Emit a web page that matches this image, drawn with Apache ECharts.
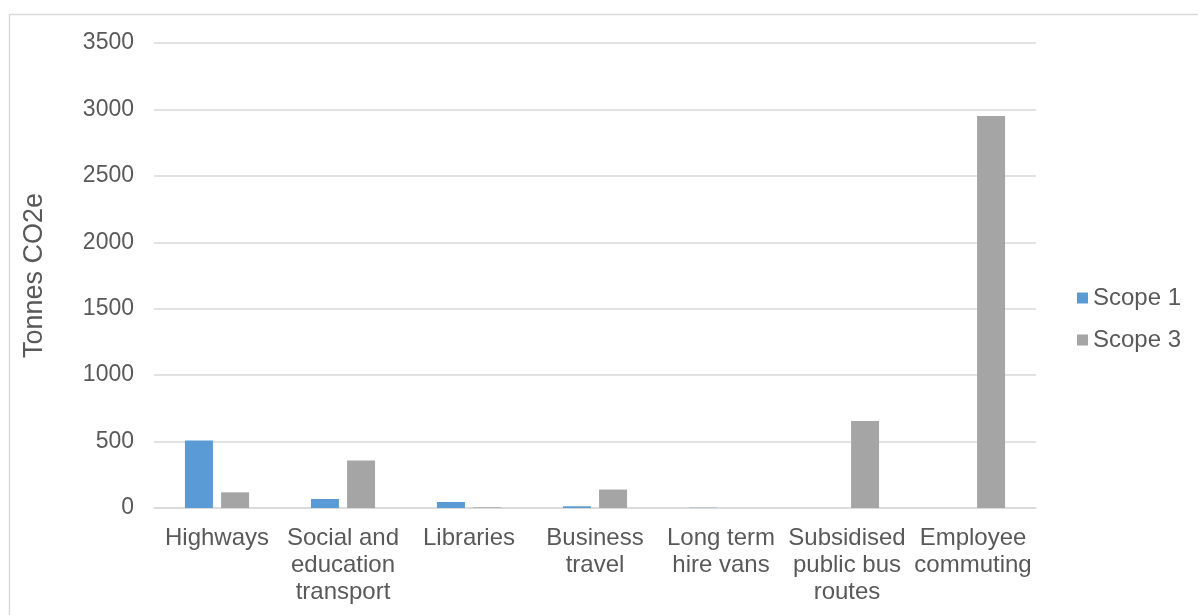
<!DOCTYPE html>
<html>
<head>
<meta charset="utf-8">
<script src="https://cdn.jsdelivr.net/npm/echarts@6/dist/echarts.min.js"></script>
<style>
  html, body { margin: 0; padding: 0; background: #ffffff; }
  #chart { width: 1198px; height: 615px; }
</style>
</head>
<body>
<div id="chart"></div>
<script>
// Transport emissions by activity, tonnes CO2e
const categories = [
  'Highways',
  'Social and\neducation\ntransport',
  'Libraries',
  'Business\ntravel',
  'Long term\nhire vans',
  'Subsidised\npublic bus\nroutes',
  'Employee\ncommuting'
];
const scope1 = [508, 68, 45, 13, 2, 0, 0];
const scope3 = [118, 358, 5, 139, 0, 655, 2950];
const yTicks = { min: 0, max: 3500, interval: 500 };

const textColor = '#595959';
const fontFamily = 'Liberation Sans, Arial, sans-serif';

const chart = echarts.init(document.getElementById('chart'), null, { renderer: 'canvas' });

chart.setOption({
  animation: false,
  backgroundColor: '#ffffff',
  graphic: [{
    type: 'rect',
    left: 7, top: 12,
    shape: { width: 1200, height: 620 },
    style: { fill: 'none', stroke: '#d9d9d9', lineWidth: 1.5 },
    silent: true
  }],
  grid: { left: 154, right: 162, top: 43, bottom: 107, containLabel: false },
  legend: {
    orient: 'vertical',
    left: 1072,
    top: 281,
    itemWidth: 11,
    itemHeight: 11,
    itemGap: 18,
    icon: 'rect',
    textStyle: { color: textColor, fontSize: 24, fontFamily: fontFamily, padding: [0, 0, 0, 0] },
    data: ['Scope 1', 'Scope 3']
  },
  xAxis: {
    type: 'category',
    data: categories,
    axisLine: { show: true, lineStyle: { color: '#d9d9d9', width: 1.5 } },
    axisTick: { show: false },
    axisLabel: {
      color: textColor,
      fontSize: 24,
      fontFamily: fontFamily,
      lineHeight: 27,
      margin: 17,
      interval: 0
    }
  },
  yAxis: {
    type: 'value',
    min: yTicks.min,
    max: yTicks.max,
    interval: yTicks.interval,
    name: 'Tonnes CO2e',
    nameLocation: 'middle',
    nameRotate: 90,
    nameGap: 106,
    nameTextStyle: { color: textColor, fontSize: 27, fontFamily: fontFamily },
    axisLine: { show: false },
    axisTick: { show: false },
    axisLabel: {
      color: textColor,
      fontSize: 23,
      fontFamily: fontFamily,
      margin: 20,
      formatter: (v) => String(v)
    },
    splitLine: { lineStyle: { color: '#d9d9d9', width: 1.5 } }
  },
  series: [
    {
      name: 'Scope 1',
      type: 'bar',
      data: scope1,
      barWidth: 28,
      barGap: '29%',
      itemStyle: { color: '#5b9bd5' }
    },
    {
      name: 'Scope 3',
      type: 'bar',
      data: scope3,
      barWidth: 28,
      barGap: '29%',
      itemStyle: { color: '#a5a5a5' }
    }
  ]
});
</script>
</body>
</html>
